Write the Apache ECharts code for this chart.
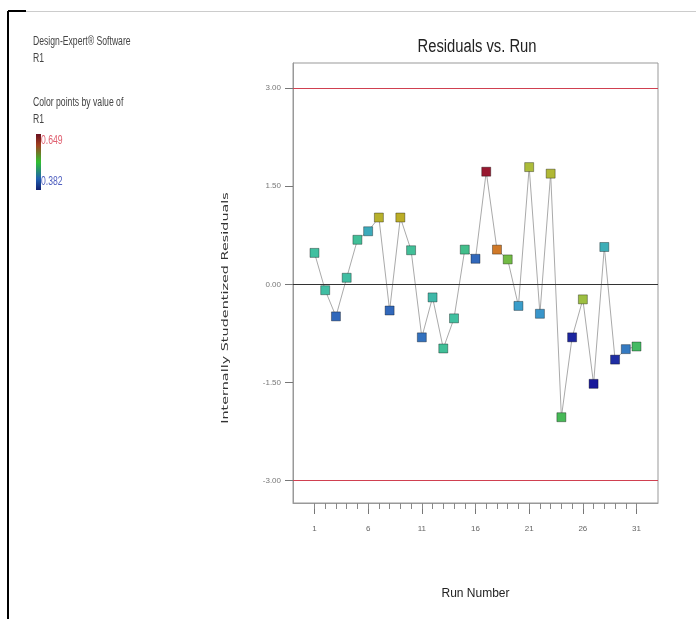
<!DOCTYPE html>
<html>
<head>
<meta charset="utf-8">
<title>Residuals vs. Run</title>
<script src="https://cdn.jsdelivr.net/npm/echarts@6/dist/echarts.min.js"></script>
<style>
    html, body { margin: 0; padding: 0; background: #fff; }
    #chart { width: 696px; height: 619px; }
</style>
</head>
<body>
<div id="chart"></div>
<script>
// run order 1..31
var runs = [1, 2, 3, 4, 5, 6, 7, 8, 9, 10, 11, 12, 13, 14, 15, 16,
    17, 18, 19, 20, 21, 22, 23, 24, 25, 26, 27, 28, 29, 30, 31];
// internally studentized residuals
var residuals = [0.48, -0.09, -0.49, 0.10, 0.68, 0.81, 1.02, -0.40, 1.02, 0.52,
    -0.81, -0.20, -0.98, -0.52, 0.53, 0.39, 1.72, 0.53, 0.38, -0.33,
    1.79, -0.45, 1.69, -2.03, -0.81, -0.23, -1.52, 0.57, -1.15, -0.99, -0.95];
// R1 response (colour of each point), estimated from the colour scale
var r1 = [0.482, 0.480, 0.420, 0.480, 0.485, 0.462, 0.570, 0.420, 0.575, 0.485,
    0.425, 0.475, 0.485, 0.482, 0.490, 0.420, 0.649, 0.615, 0.530, 0.450,
    0.555, 0.445, 0.560, 0.510, 0.388, 0.545, 0.382, 0.465, 0.392, 0.430, 0.505];
var r1Min = 0.382, r1Max = 0.649;
var yTicks = [-3, -1.5, 0, 1.5, 3];
var limitLines = [3, -3];
var xTicks = [1, 6, 11, 16, 21, 26, 31];

var chart = echarts.init(document.getElementById('chart'));

var points = [];
for (var i = 0; i < runs.length; i++) {
    points.push([runs[i], residuals[i], r1[i]]);
}

var sans = "'Liberation Sans', Arial, sans-serif";

// narrow text like the original software output
function narrowText(txt, x, y, size, color, sx) {
    return {
        type: 'text', x: x, y: y, scaleX: sx || 0.72,
        style: { text: txt, font: size + 'px ' + sans, fill: color || '#444', verticalAlign: 'middle' }
    };
}

var option = {
    backgroundColor: '#fff',
    animation: false,
    grid: {
        left: 293, right: 38, top: 63, bottom: 116,
        show: true, borderColor: '#999', borderWidth: 1
    },
    visualMap: {
        show: false,
        type: 'continuous',
        seriesIndex: 0,
        dimension: 2,
        min: r1Min,
        max: r1Max,
        inRange: {
            color: ['#18189a', '#2f60b8', '#3a9ccc', '#40c0a0', '#48b848',
                '#a8c040', '#c0a820', '#d07828', '#981830']
        }
    },
    xAxis: [{
        type: 'value',
        min: -1, max: 33,
        name: 'Run Number',
        nameLocation: 'middle',
        nameGap: 85,
        nameTextStyle: { fontFamily: sans, fontSize: 12, color: '#222' },
        axisLine: { show: true, onZero: false, lineStyle: { color: '#999' } },
        axisTick: { show: true, customValues: xTicks, length: 11, lineStyle: { color: '#777' } },
        axisLabel: {
            customValues: xTicks, margin: 22,
            fontFamily: sans, fontSize: 8, color: '#666'
        },
        splitLine: { show: false }
    }, {
        type: 'value',
        position: 'bottom',
        min: -1, max: 33,
        axisLine: { show: false, onZero: false },
        axisTick: { show: true, customValues: runs, length: 6, lineStyle: { color: '#888' } },
        axisLabel: { show: false },
        splitLine: { show: false }
    }],
    yAxis: {
        type: 'value',
        min: -3.34, max: 3.38,
        axisLine: { show: true, onZero: false, lineStyle: { color: '#999' } },
        axisTick: { show: true, customValues: yTicks, length: 8, lineStyle: { color: '#777' } },
        axisLabel: {
            customValues: yTicks, margin: 12,
            fontFamily: sans, fontSize: 8, color: '#777',
            formatter: function (v) { return v.toFixed(2); }
        },
        splitLine: { show: false }
    },
    graphic: [
        { type: 'line', shape: { x1: 8, y1: 11, x2: 8, y2: 619 }, style: { stroke: '#000', lineWidth: 2 } },
        { type: 'line', shape: { x1: 8, y1: 11, x2: 26, y2: 11 }, style: { stroke: '#000', lineWidth: 2 } },
        { type: 'line', shape: { x1: 26, y1: 11.5, x2: 696, y2: 11.5 }, style: { stroke: '#ccc', lineWidth: 1 } },
        {
            type: 'text', x: 477, y: 47, scaleX: 0.82,
            style: { text: 'Residuals vs. Run', font: '18px ' + sans, fill: '#222', align: 'center', verticalAlign: 'middle' }
        },
        {
            type: 'text', x: 226, y: 308, rotation: Math.PI / 2, scaleX: 1.6,
            style: { text: 'Internally Studentized Residuals', font: '9px DejaVu Sans', fill: '#333', align: 'center', verticalAlign: 'middle' }
        },
        narrowText('Design-Expert® Software', 33, 42, 12),
        narrowText('R1', 33, 59, 12),
        narrowText('Color points by value of', 33, 103, 12),
        narrowText('R1', 33, 120, 12),
        {
            type: 'rect', shape: { x: 36, y: 134, width: 5, height: 56 },
            style: {
                fill: new echarts.graphic.LinearGradient(0, 0, 0, 1, [
                    { offset: 0, color: '#6a1020' },
                    { offset: 0.2, color: '#a04020' },
                    { offset: 0.5, color: '#30c030' },
                    { offset: 0.8, color: '#2060b0' },
                    { offset: 1, color: '#102070' }
                ])
            }
        },
        narrowText(r1Max.toFixed(3), 41, 141, 12, '#e06070'),
        narrowText(r1Min.toFixed(3), 41, 182, 12, '#5060c0')
    ],
    series: [{
        type: 'line',
        data: points,
        symbol: 'rect',
        symbolSize: 9,
        lineStyle: { color: '#aaa', width: 1 },
        itemStyle: { borderColor: 'rgba(0,0,0,0.35)', borderWidth: 1 },
        z: 3
    }, {
        type: 'line',
        data: [],
        silent: true,
        markLine: {
            silent: true,
            symbol: 'none',
            label: { show: false },
            data: [
                { yAxis: limitLines[0], lineStyle: { color: '#d04050', width: 1, type: 'solid' } },
                { yAxis: limitLines[1], lineStyle: { color: '#d04050', width: 1, type: 'solid' } },
                { yAxis: 0, lineStyle: { color: '#333', width: 1, type: 'solid' } }
            ]
        }
    }]
};

chart.setOption(option);
</script>
</body>
</html>
